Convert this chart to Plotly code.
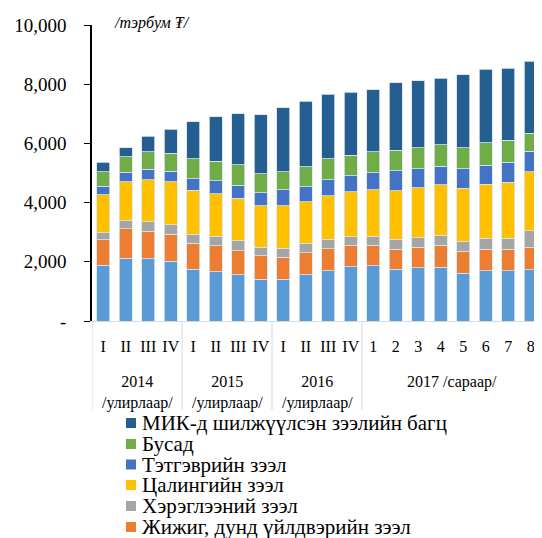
# ----- Imports -----
import plotly.graph_objs as go

# ----- Data -----
period_labels = ["I", "II", "III", "IV", "I", "II", "III", "IV", "I", "II", "III", "IV",
                 "1", "2", "3", "4", "5", "6", "7", "8"]
group_labels = ["2014<br>/улирлаар/", "2015<br>/улирлаар/", "2016<br>/улирлаар/", "2017 /сараар/"]
group_sizes = [4, 4, 4, 8]

mortgage = [1890, 2125, 2100, 2025, 1755, 1670, 1560, 1415, 1415, 1560,
            1705, 1830, 1875, 1755, 1795, 1820, 1615, 1695, 1695, 1740]
sme = [860, 985, 940, 900, 865, 880, 815, 790, 745, 745,
       735, 710, 690, 675, 700, 735, 745, 735, 735, 745]
consumer = [230, 270, 315, 320, 305, 320, 330, 295, 305, 315,
            315, 305, 305, 325, 325, 340, 325, 360, 360, 565]
salary = [1290, 1330, 1415, 1460, 1490, 1435, 1435, 1400, 1435, 1415,
          1480, 1525, 1560, 1650, 1675, 1710, 1800, 1830, 1890, 1990]
pension = [290, 315, 350, 350, 395, 430, 450, 430, 530, 500,
           545, 545, 585, 670, 645, 630, 660, 645, 680, 690]
other = [475, 520, 600, 610, 680, 655, 690, 645, 620, 680,
         700, 680, 700, 700, 720, 725, 700, 760, 745, 610]
mik = [320, 305, 530, 815, 1245, 1515, 1730, 2000, 2160, 2205,
       2180, 2125, 2100, 2270, 2250, 2240, 2475, 2475, 2430, 2430]

series = [
    ("Ипотекийн зээл", mortgage, "#5B9BD5"),
    ("Жижиг, дунд үйлдвэрийн зээл", sme, "#ED7D31"),
    ("Хэрэглээний зээл", consumer, "#A5A5A5"),
    ("Цалингийн зээл", salary, "#FFC000"),
    ("Тэтгэврийн зээл", pension, "#4472C4"),
    ("Бусад", other, "#70AD47"),
    ("МИК-д шилжүүлсэн зээлийн багц", mik, "#255E91"),
]

# ----- Geometry helpers (reference pixels -> paper) -----
# page body has an 8px margin, so the figure itself is 8px smaller each way
BODY = 8
PLOT_LEFT, PLOT_W = 92, 450
PLOT_TOP, PLOT_BOTTOM = 25, 321
PLOT_H = PLOT_BOTTOM - PLOT_TOP


def py(pix):
    return (PLOT_BOTTOM - pix) / PLOT_H


def px_(pix):
    return (pix - PLOT_LEFT) / PLOT_W


FONT = "Liberation Serif, Times New Roman, serif"
x_idx = list(range(len(period_labels)))

fig = go.Figure()

# stacked bars
for name, values, color in series:
    fig.add_trace(
        go.Bar(
            x=x_idx,
            y=values,
            name=name,
            marker=dict(color=color, line=dict(color="#D6E4F0", width=0.8)),
            showlegend=False,
        )
    )

# group labels and dividers below the axis
annotations = []
shapes = []
start = 0
for label, size in zip(group_labels, group_sizes):
    two_lines = "<br>" in label
    annotations.append(dict(
        x=start + (size - 1) / 2, xref="x",
        y=py(371) if two_lines else py(381.5), yref="paper",
        yanchor="top" if two_lines else "middle",
        text=label, showarrow=False, font=dict(family=FONT, size=16, color="black"),
    ))
    shapes.append(dict(
        type="line", xref="x", yref="paper",
        x0=start - 0.5, x1=start - 0.5, y0=0, y1=py(410),
        line=dict(color="#D9D9D9", width=1),
    ))
    start += size

# unit label
annotations.append(dict(
    x=px_(112), xref="paper", xanchor="left",
    y=py(23), yref="paper", yanchor="middle",
    text="<i>/тэрбум ₮/</i>", showarrow=False,
    font=dict(family=FONT, size=16, color="black"),
))

# legend drawn by hand (reference legend is cut at the bottom)
legend_rows = [423, 444, 464.5, 485, 506, 527]
for row, (name, values, color) in zip(legend_rows, series[::-1]):
    shapes.append(dict(
        type="rect", xref="paper", yref="paper",
        x0=px_(126), x1=px_(136), y0=py(row - 5), y1=py(row + 5),
        fillcolor=color, line=dict(width=0),
    ))
    annotations.append(dict(
        x=px_(140), xref="paper", xanchor="left",
        y=py(row), yref="paper", yanchor="middle",
        text=name, showarrow=False,
        font=dict(family=FONT, size=21, color="black"),
    ))

fig.update_layout(
    barmode="stack",
    bargap=0.42,
    width=542 - BODY,
    height=538 - BODY,
    margin=dict(l=PLOT_LEFT - BODY, r=0, t=PLOT_TOP - BODY, b=538 - PLOT_BOTTOM),
    plot_bgcolor="white",
    paper_bgcolor="white",
    showlegend=False,
    annotations=annotations,
    shapes=shapes,
)

fig.update_xaxes(
    range=[-0.5, 19.5],
    tickvals=x_idx,
    ticktext=period_labels,
    showline=True,
    linecolor="#D9D9D9",
    linewidth=1,
    ticks="",
    showgrid=False,
    tickfont=dict(family=FONT, size=16, color="black"),
    ticklabelstandoff=11,
)
fig.update_yaxes(
    range=[0, 10000],
    tickvals=[0, 2000, 4000, 6000, 8000, 10000],
    ticktext=["-", "2,000", "4,000", "6,000", "8,000", "10,000"],
    showline=True,
    linecolor="black",
    linewidth=1.5,
    ticks="outside",
    ticklen=6,
    tickcolor="black",
    showgrid=False,
    zeroline=False,
    tickfont=dict(family=FONT, size=19, color="black"),
    ticklabelstandoff=14,
)

fig.write_html("out.html")
